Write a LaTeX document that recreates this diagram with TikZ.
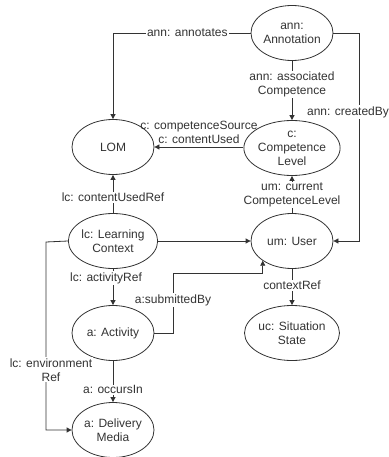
\documentclass[tikz,border=0pt]{standalone}
\usepackage{fontspec}
\setmainfont{Liberation Sans}
\usetikzlibrary{shapes.geometric,arrows.meta}
\definecolor{ink}{HTML}{333333}
\tikzset{
  ent/.style={ellipse,draw=ink,line width=0.8pt,minimum width=82pt,minimum height=55pt,inner sep=0pt,align=center,text=ink,font=\fontsize{12}{14}\selectfont},
  conn/.style={draw=ink,line width=0.8pt},
  arr/.style={conn,-{Triangle[length=5pt,width=5pt]}},
  lbl/.style={fill=white,inner sep=1pt,align=center,text=ink,font=\fontsize{12}{14}\selectfont},
}
\begin{document}
\begin{tikzpicture}[x=1pt,y=-1pt]
\useasboundingbox (0,0) rectangle (388,457);
\node[ent] (ann) at (292,33) {ann:\\Annotation};
\node[ent] (lom) at (113,147) {LOM};
\node[ent] (comp) at (292,148) {c:\\Competence\\Level};
\node[ent] (lc) at (113,241) {lc: Learning\\Context};
\node[ent] (user) at (292,241) {um: User};
\node[ent] (act) at (113,333) {a: Activity};
\node[ent] (sit) at (292,333) {uc: Situation\\State};
\node[ent] (dm) at (113,430) {a: Delivery\\Media};
\coordinate (cb) at (359,33);
\coordinate (sb) at (173,273);
\coordinate (env) at (46,242);
% ann: annotates
\draw[arr] (ann.west) -| node[lbl,pos=0.23]{ann: annotates} (lom.north);
% ann: associated Competence
\draw[arr] (ann.south) -- node[lbl,pos=0.4]{ann: associated\\Competence} (comp.north);
% ann: createdBy
\draw[arr] (ann.east) -- (cb) |- (user.east);
\node[lbl] at (348,112) {ann: createdBy};
% competence source
\draw[arr] (comp.west |- lom.east) -- node[above,inner sep=3pt,align=center,text=ink,font=\fontsize{12}{14}\selectfont]{c: competenceSource\\c: contentUsed} (lom.east);
% contentUsedRef
\draw[arr] (lc.north) -- node[lbl,pos=0.41]{lc: contentUsedRef} (lom.south);
% current competence level
\draw[arr] (user.north) -- node[lbl,pos=0.48]{um: current\\CompetenceLevel} (comp.south);
% lc -> user
\draw[arr] (lc.east) -- (user.west);
% activityRef
\draw[arr] (lc.south) -- node[lbl,pos=0.25,xshift=-7pt]{lc: activityRef} (act.north);
% submittedBy
\draw[arr] (act.east) -| node[lbl,pos=0.775]{a:submittedBy} (sb) -| (user.south west);
% contextRef
\draw[arr] (user.south) -- node[lbl,pos=0.46]{contextRef} (sit.north);
% occursIn
\draw[arr] (act.south) -- node[lbl,pos=0.7]{a: occursIn} (dm.north);
% environment ref
\draw[arr] (lc.west) -- (env) |- node[lbl,pos=0.34,xshift=5pt]{lc: environment\\Ref} (dm.west);
\end{tikzpicture}
\end{document}
